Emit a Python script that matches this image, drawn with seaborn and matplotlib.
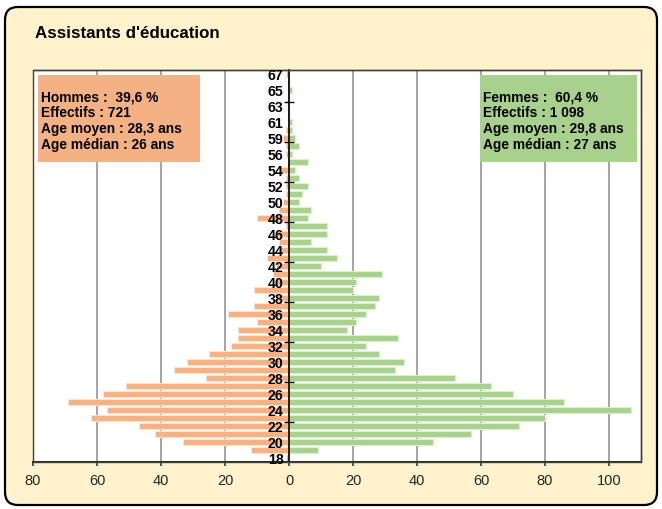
import matplotlib
matplotlib.use("Agg")
import matplotlib.pyplot as plt
import seaborn as sns
import pandas as pd
from matplotlib.patches import FancyBboxPatch, Rectangle
from matplotlib.ticker import FixedLocator

# ---------------- data ----------------
ages = [str(a) for a in list(range(18, 57)) + [57] + list(range(59, 68))]
hommes = [1, 12, 33, 42, 47, 62, 57, 69, 58, 51,      # 18-27
          26, 36, 32, 25, 18, 16, 16, 10, 19, 11,     # 28-37
          4, 11, 4, 5, 4, 7, 3, 3, 4, 1,              # 38-47
          10, 3, 2, 1, 1, 1, 3, 0, 1, 1,              # 48-57
          2, 1, 0, 0, 0, 0, 0, 0, 1]                  # 59-67
femmes = [0, 9, 45, 57, 72, 80, 107, 86, 70, 63,      # 18-27
          52, 33, 36, 28, 24, 34, 18, 21, 24, 27,     # 28-37
          28, 20, 21, 29, 10, 15, 12, 7, 12, 12,      # 38-47
          6, 7, 3, 4, 6, 3, 2, 6, 1, 3,               # 48-57
          2, 1, 1, 0, 0, 0, 1, 0, 0]                  # 59-67
x_ticks = [-80, -60, -40, -20, 0, 20, 40, 60, 80, 100]
x_tick_labels = ["80", "60", "40", "20", "0", "20", "40", "60", "80", "100"]
title = "Assistants d'éducation"
hommes_info = ["Hommes :  39,6 %", "Effectifs : 721",
               "Age moyen : 28,3 ans", "Age médian : 26 ans"]
femmes_info = ["Femmes :  60,4 %", "Effectifs : 1 098",
               "Age moyen : 29,8 ans", "Age médian : 27 ans"]

col_h = "#F4B183"
col_f = "#A9D18E"

# ---------------- figure ----------------
sns.set_theme(style="white")
plt.rcParams['font.family'] = ['Liberation Sans', 'DejaVu Sans']

W, H = 662, 510
fig = plt.figure(figsize=(W / 100, H / 100), dpi=100)
fig.patch.set_facecolor("white")

frame = FancyBboxPatch((0.05, 0.04), 6.52, 4.98,
                       boxstyle="round,pad=0,rounding_size=0.13",
                       transform=fig.dpi_scale_trans,
                       facecolor="#FFF2CC", edgecolor="black",
                       linewidth=1.6, zorder=-5)
fig.patches.append(frame)

ax_l, ax_r, ax_t, ax_b = 33, 641, 71, 463
ax = fig.add_axes([ax_l / W, (H - ax_b) / H, (ax_r - ax_l) / W, (ax_b - ax_t) / H])
ax.set_facecolor("white")

df = pd.DataFrame({"age": ages,
                   "hommes": [-v for v in hommes],
                   "femmes": femmes})
order = ages[::-1]

sns.barplot(data=df, x="hommes", y="age", order=order, orient="h",
            color=col_h, saturation=1, edgecolor="#FBE3D4", linewidth=0.8,
            width=0.85, errorbar=None, ax=ax)
sns.barplot(data=df, x="femmes", y="age", order=order, orient="h",
            color=col_f, saturation=1, edgecolor="#DDEED2", linewidth=0.8,
            width=0.85, errorbar=None, ax=ax)

n = len(ages)
ax.set_xlim(-80, 110)
ax.set_ylim(n - 0.5, -0.5)
ax.set_xlabel("")
ax.set_ylabel("")

# grid
ax.set_axisbelow(True)
ax.grid(axis="x", color="#A6A6A6", linewidth=1.5)
ax.grid(axis="y", visible=False)

# x axis
ax.set_xticks(x_ticks)
ax.set_xticklabels(x_tick_labels)
ax.tick_params(axis="x", which="major", length=3, direction="out",
               color="#404040", labelsize=10.5, labelcolor="#262626", pad=5,
               bottom=True)

# y axis at zero
ax.spines["left"].set_position(("data", 0))
ax.spines["left"].set_color("black")
ax.spines["left"].set_linewidth(1.2)
lab_ages = ages[::2]
ax.set_yticks([order.index(a) for a in lab_ages])
ax.set_yticklabels(lab_ages)
ax.tick_params(axis="y", which="major", length=0, pad=4, labelsize=10.2,
               labelcolor="black", left=True)
for lbl in ax.get_yticklabels():
    lbl.set_fontweight("bold")
minor_pos = [n - 1 - (k - 0.5) for k in range(5, n, 5)]
ax.yaxis.set_minor_locator(FixedLocator(minor_pos))
ax.tick_params(axis="y", which="minor", length=7, width=1,
               direction="inout", color="black", left=True)
ax.yaxis.set_zorder(3)

for s in ["top", "right"]:
    ax.spines[s].set_color("#404040")
    ax.spines[s].set_linewidth(1.0)
ax.spines["bottom"].set_color("#262626")
ax.spines["bottom"].set_linewidth(1.4)
ax.add_patch(Rectangle((0, 0), 1, 1, transform=ax.transAxes, fill=False,
                       edgecolor="#404040", linewidth=1.0, zorder=3,
                       clip_on=False))


def to_ax(x, y):
    return ((x - ax_l) / (ax_r - ax_l), (ax_b - y) / (ax_b - ax_t))


def info_box(x0, x1, lines, color):
    bx, by = to_ax(x0, 163)
    bw = (x1 - x0) / (ax_r - ax_l)
    bh = (163 - 76) / (ax_b - ax_t)
    ax.add_patch(Rectangle((bx, by), bw, bh, transform=ax.transAxes,
                           facecolor=color, edgecolor="none", zorder=4))
    for k, line in enumerate(lines):
        tx, ty = to_ax(x0 + 3, 97.5 + 16 * k)
        ax.text(tx, ty, line, transform=ax.transAxes, ha="left", va="center",
                fontsize=9.9, fontweight="bold", color="black", zorder=5)


info_box(38, 200, hommes_info, col_h)
info_box(480, 637, femmes_info, col_f)

fig.text(35 / W, 1 - 33 / H, title, fontsize=12.2, fontweight="bold",
         ha="left", va="center", color="black")

fig.savefig("out.png", dpi=100)
